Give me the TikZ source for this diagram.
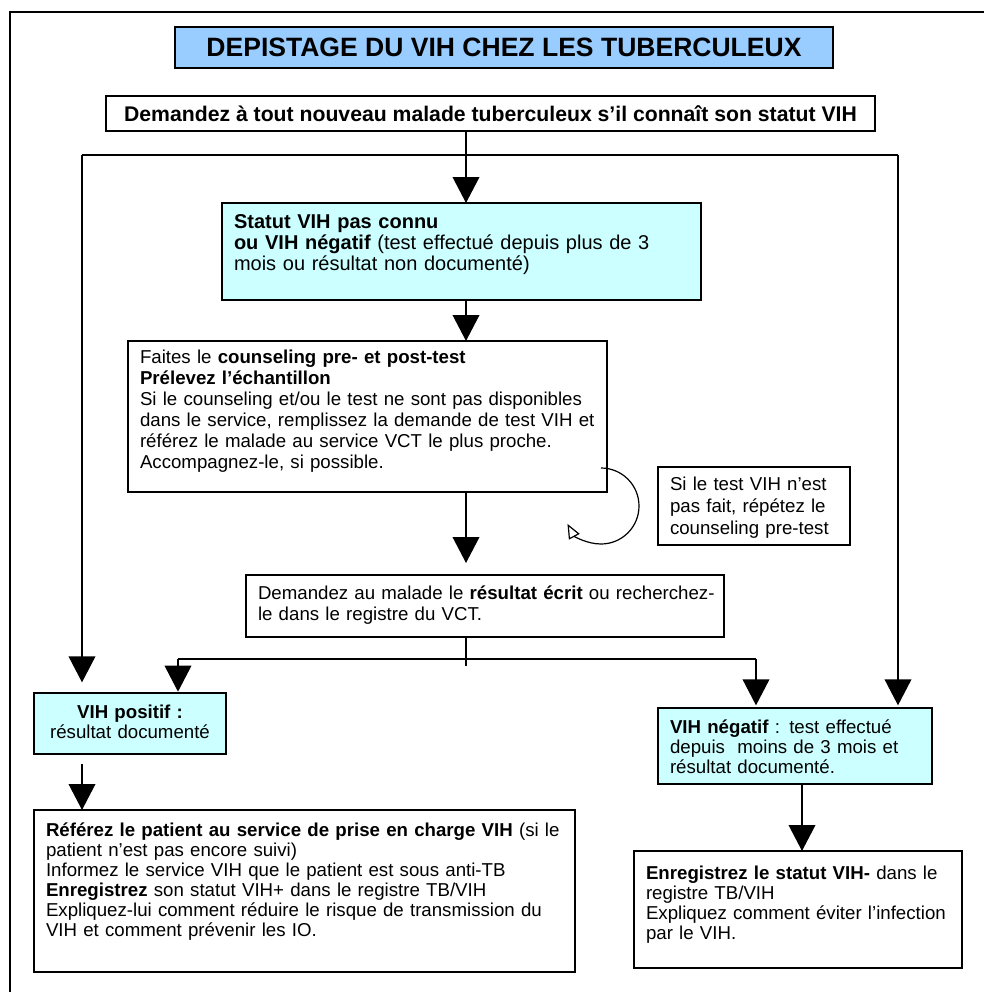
\documentclass[tikz,border=0pt]{standalone}
\usepackage{xcolor}
\usepackage{fontspec}
\setmainfont{Liberation Sans}
\usetikzlibrary{arrows.meta}
\definecolor{titleblue}{HTML}{99CCFF}
\definecolor{paleblue}{HTML}{CCFFFF}

\begin{document}
\begin{tikzpicture}[x=0.75pt,y=-0.75pt]
	\tikzstyle{box} = [draw, line width=1.1pt, anchor=north west, inner xsep=9pt, inner ysep=0pt, outer sep=0pt, align=left, font=\fontsize{14}{15}\selectfont]
	\tikzstyle{hbox} = [draw, line width=1.1pt, anchor=north west, inner sep=0pt, outer sep=0pt]
	\tikzset{edge/.style = {line width=1.2pt, -{Triangle[length=19.5pt,width=20pt]}}}
	\tikzset{line/.style = {line width=1.1pt}}

	\useasboundingbox (0,0) rectangle (984,992);
	\draw[line width=0.8pt] (984,12) -| (10,992);

	\node[hbox, fill=titleblue, minimum width=493.5pt, minimum height=30.75pt, font=\fontsize{19.9}{24}\selectfont\bfseries](title) at (175,27) {DEPISTAGE DU VIH CHEZ LES TUBERCULEUX};
	\node[hbox, minimum width=576.75pt, minimum height=26.25pt, font=\fontsize{15.9}{19}\selectfont\bfseries](quest) at (106,96) {Demandez à tout nouveau malade tuberculeux s’il connaît son statut VIH};

	\node[box, fill=paleblue, font=\fontsize{15}{16.1}\selectfont, text width=341.25pt, text height=18.75pt, text depth=54pt](stat) at (222,203) {\textbf{Statut VIH pas connu}\\ \textbf{ou VIH négatif} (test effectué depuis plus de 3\\ mois ou résultat non documenté)};
	\node[box, font=\fontsize{14}{15.75}\selectfont, text width=341.25pt, text height=16.5pt, text depth=96.75pt](couns) at (128,341) {Faites le \textbf{counseling pre- et post-test}\\ \textbf{Prélevez l’échantillon}\\ Si le counseling et/ou le test ne sont pas disponibles\\ dans le service, remplissez la demande de test VIH et\\ référez le malade au service VCT le plus proche.\\ Accompagnez-le, si possible.};
	\node[box, font=\fontsize{14}{16.5}\selectfont, text width=126pt, text height=17.25pt, text depth=41.25pt](note) at (658,467) {Si le test VIH n’est\\ pas fait, répétez le\\ counseling pre-test};
	\node[box, font=\fontsize{14}{15.75}\selectfont, text width=340.5pt, text height=18pt, text depth=28.5pt](dem) at (246,575) {\mbox{Demandez au malade le \textbf{résultat écrit} ou recherchez-}\\ le dans le registre du VCT.};

	\node[box, fill=paleblue, align=center, text width=126pt, text height=18.75pt, text depth=27pt](pos) at (34,693) {\textbf{VIH positif :}\\ résultat documenté};
	\node[box, fill=paleblue, text width=187.5pt, text height=18.75pt, text depth=38.25pt](neg) at (658,708) {\textbf{VIH négatif} : test effectué\\ depuis\ \ moins de 3 mois et\\ résultat documenté.};

	\node[box, text width=387.75pt, text height=19.5pt, text depth=102pt](refer) at (34,810) {\textbf{Référez le patient au service de prise en charge VIH} (si le\\ patient n’est pas encore suivi)\\ Informez le service VIH que le patient est sous anti-TB\\ \textbf{Enregistrez} son statut VIH+ dans le registre TB/VIH\\ Expliquez-lui comment réduire le risque de transmission du\\ VIH et comment prévenir les IO.};
	\node[box, text width=228pt, text height=21pt, text depth=66.75pt](record) at (634,851) {\textbf{Enregistrez le statut VIH-} dans le\\ registre TB/VIH\\ Expliquez comment éviter l’infection\\ par le VIH.};

	% main column
	\coordinate (spine) at (466,0);
	\draw[edge] (quest.south -| spine) to (stat.north -| spine);
	\draw[edge] (stat.south -| spine) to (couns.north -| spine);
	\draw[edge, shorten >=9pt] (couns.south -| spine) to (dem.north -| spine);

	% side branches
	\coordinate (barL) at (82,155);
	\coordinate (barR) at (898,155);
	\draw[line] (barL) -- (barR);
	\draw[edge, shorten >=8pt] (barL) to (barL |- pos.north);
	\draw[edge, shorten >=2pt] (barR) to (barR |- neg.north);

	% result fork
	\coordinate (forkL) at (178,659);
	\coordinate (forkR) at (756,659);
	\draw[line] (dem.south -| spine) -- ++(0,29);
	\draw[line] (forkL) -- (forkR);
	\draw[edge, shorten >=1pt] (forkL) to (forkL |- pos.north);
	\draw[edge, shorten >=2pt] (forkR) to (forkR |- neg.north);

	% next steps
	\coordinate (posx) at (82,0);
	\coordinate (negx) at (802,0);
	\draw[edge, shorten <=7.5pt] (pos.south -| posx) to (refer.north -| posx);
	\draw[edge] (neg.south -| negx) to (record.north -| negx);

	% repeat loop
	\coordinate (loopstart) at (601,468);
	\draw[line width=0.9pt, -{Triangle[open,length=11pt,width=9pt]}] (loopstart) arc[start angle=-90, end angle=152, radius=38];
\end{tikzpicture}
\end{document}
